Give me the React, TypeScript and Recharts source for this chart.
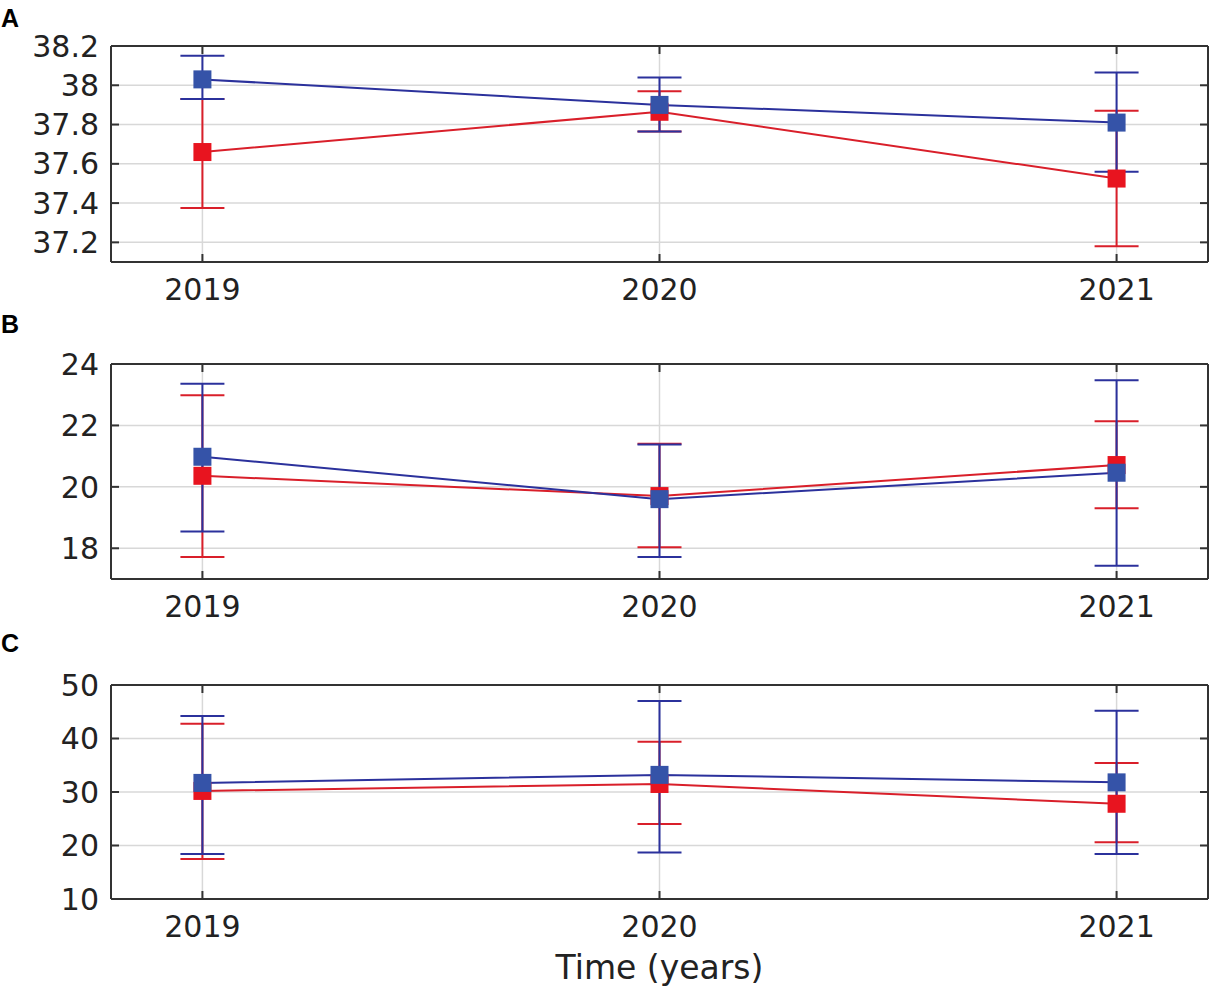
import React from "react";
import {
  LineChart, Line, XAxis, YAxis, CartesianGrid, ErrorBar,
} from "recharts";

const years = [2019, 2020, 2021];

// panel A
const aBlue = [38.03, 37.9, 37.81];
const aBlueLo = [37.93, 37.765, 37.56];
const aBlueHi = [38.15, 38.04, 38.065];
const aRed = [37.66, 37.865, 37.525];
const aRedLo = [37.375, 37.765, 37.18];
const aRedHi = [37.93, 37.97, 37.87];
const aTicks = [37.2, 37.4, 37.6, 37.8, 38, 38.2];

// panel B
const bBlue = [20.98, 19.6, 20.46];
const bBlueLo = [18.55, 17.72, 17.43];
const bBlueHi = [23.36, 21.38, 23.47];
const bRed = [20.36, 19.7, 20.71];
const bRedLo = [17.72, 18.03, 19.3];
const bRedHi = [22.98, 21.4, 22.14];
const bTicks = [18, 20, 22, 24];

// panel C
const cBlue = [31.7, 33.2, 31.8];
const cBlueLo = [18.4, 18.7, 18.4];
const cBlueHi = [44.2, 47.0, 45.2];
const cRed = [30.2, 31.5, 27.8];
const cRedLo = [17.5, 24.0, 20.6];
const cRedHi = [42.75, 39.4, 35.4];
const cTicks = [10, 20, 30, 40, 50];

const BLUE_LINE = "#2b319c";
const BLUE_MARK = "#3553a8";
const RED_LINE = "#d91f2a";
const RED_MARK = "#e8141f";
const FONT = "DejaVu Sans";

function buildRows(blue: number[], blueLo: number[], blueHi: number[], red: number[], redLo: number[], redHi: number[]) {
  return years.map((year, i) => ({
    year,
    blue: blue[i],
    blueErr: [blue[i] - blueLo[i], blueHi[i] - blue[i]],
    red: red[i],
    redErr: [red[i] - redLo[i], redHi[i] - red[i]],
  }));
}

const square = (color: string) => (props: any) => {
  const { cx, cy, index } = props;
  if (cx == null || cy == null) return <g key={`s-${index}`} />;
  return <rect key={`s-${index}`} x={cx - 9} y={cy - 9} width={18} height={18} fill={color} />;
};

const tickStyle = { fontSize: 30, fill: "#222", fontFamily: FONT };
const blank = () => "";

function Panel({
  rows, domain, ticks, height, bottom, title,
}: {
  rows: any[]; domain: [number, number]; ticks: number[]; height: number; bottom: number; title?: string;
}) {
  return (
    <LineChart width={1211} height={height} data={rows} margin={{ top: 0, right: 0, left: 0, bottom: 0 }}>
      <CartesianGrid stroke="#d8d8d8" strokeWidth={1.5} />
      <XAxis
        dataKey="year" type="number" domain={[2018.8, 2021.2]} ticks={years} allowDataOverflow
        height={bottom} stroke="#333" strokeWidth={2} tickSize={-8} tickMargin={25}
        tick={tickStyle}
        label={title ? { value: title, position: "insideBottom", offset: 12, fontSize: 33, fill: "#222", fontFamily: FONT } : undefined}
      />
      <XAxis
        xAxisId="top" orientation="top" dataKey="year" type="number" domain={[2018.8, 2021.2]} ticks={years}
        allowDataOverflow height={46} stroke="#333" strokeWidth={2} tickSize={-8} tickFormatter={blank}
      />
      <YAxis
        type="number" domain={domain} ticks={ticks} allowDataOverflow width={111}
        stroke="#333" strokeWidth={2} tickSize={-8} tickMargin={20} tick={tickStyle}
      />
      <YAxis
        yAxisId="right" orientation="right" type="number" domain={domain} ticks={ticks} allowDataOverflow
        width={3} stroke="#333" strokeWidth={2} tickSize={-8} tickFormatter={blank}
      />
      <Line
        dataKey="red" stroke={RED_LINE} strokeWidth={2} dot={square(RED_MARK)} activeDot={false}
        isAnimationActive={false}
      >
        <ErrorBar dataKey="redErr" direction="y" width={22} stroke={RED_LINE} strokeWidth={2} isAnimationActive={false} />
      </Line>
      <Line
        dataKey="blue" stroke={BLUE_LINE} strokeWidth={2} dot={square(BLUE_MARK)} activeDot={false}
        isAnimationActive={false}
      >
        <ErrorBar dataKey="blueErr" direction="y" width={22} stroke={BLUE_LINE} strokeWidth={2} isAnimationActive={false} />
      </Line>
    </LineChart>
  );
}

const letterStyle: React.CSSProperties = {
  position: "absolute", left: 1, fontFamily: "Liberation Sans", fontWeight: "bold", fontSize: 25, lineHeight: "25px",
};

export default function App() {
  const rowsA = buildRows(aBlue, aBlueLo, aBlueHi, aRed, aRedLo, aRedHi);
  const rowsB = buildRows(bBlue, bBlueLo, bBlueHi, bRed, bRedLo, bRedHi);
  const rowsC = buildRows(cBlue, cBlueLo, cBlueHi, cRed, cRedLo, cRedHi);
  return (
    <div style={{ position: "absolute", left: 0, top: 0, width: 1211, height: 991, background: "#fff" }}>
      <div style={{ position: "absolute", left: 0, top: 0 }}>
        <Panel rows={rowsA} domain={[37.1, 38.2]} ticks={aTicks} height={318} bottom={56} />
      </div>
      <div style={{ position: "absolute", left: 0, top: 318 }}>
        <Panel rows={rowsB} domain={[17, 24]} ticks={bTicks} height={321} bottom={60} />
      </div>
      <div style={{ position: "absolute", left: 0, top: 639 }}>
        <Panel rows={rowsC} domain={[10, 50]} ticks={cTicks} height={352} bottom={92} title="Time (years)" />
      </div>
      <div style={{ ...letterStyle, top: 6 }}>A</div>
      <div style={{ ...letterStyle, top: 312 }}>B</div>
      <div style={{ ...letterStyle, top: 631 }}>C</div>
    </div>
  );
}
